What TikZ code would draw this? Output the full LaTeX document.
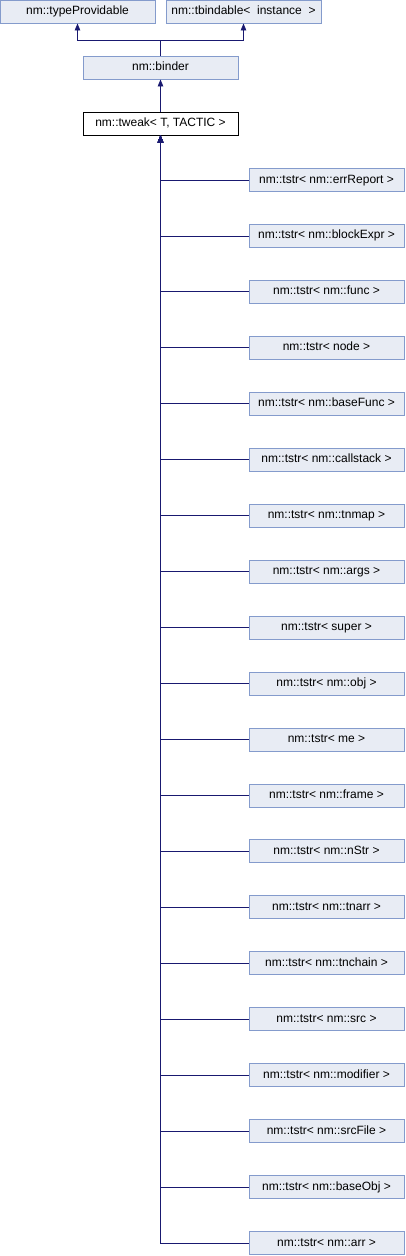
\documentclass[tikz,border=0pt]{standalone}
\usepackage{fontspec}
\setmainfont{Liberation Sans}
\usetikzlibrary{arrows.meta}
\definecolor{nodefill}{RGB}{232,236,244}
\definecolor{nodeborder}{RGB}{132,155,204}
\definecolor{edgecol}{RGB}{25,25,112}
\tikzset{
  cls/.style={draw=nodeborder, fill=nodefill, line width=0.9pt, minimum width=155pt, minimum height=23pt, inner sep=0pt, text height=8.5pt, text depth=2.5pt, font=\fontsize{12}{14}\selectfont},
  cur/.style={cls, draw=black, fill=white},
  inh/.style={draw=edgecol, line width=0.9pt, -{Triangle[length=7pt,width=5.5pt]}},
}
\begin{document}
\begin{tikzpicture}[x=1pt,y=-1pt]
\useasboundingbox (0,0) rectangle (405,1256);
\node[cls] (tp) at (77.5,11.5) {nm::typeProvidable};
\node[cls] (tb) at (243.5,11.5) {nm::tbindable<\ \ instance\ \ >};
\node[cls] (binder) at (160.5,67.5) {nm::binder};
\node[cur] (tweak) at (160.5,123.5) {nm::tweak<\ T, TACTIC\ >};
\coordinate (j) at (160.5,40);
\draw[inh] (binder.north) -- (j) -| (tp.south);
\draw[inh] (binder.north) -- (j) -| (tb.south);
\draw[inh] (tweak.north) -- (binder.south);
\foreach \t [count=\i from 0] in {
  nm::tstr<\ nm::errReport\ >,
  nm::tstr<\ nm::blockExpr\ >,
  nm::tstr<\ nm::func\ >,
  nm::tstr<\ node\ >,
  nm::tstr<\ nm::baseFunc\ >,
  nm::tstr<\ nm::callstack\ >,
  nm::tstr<\ nm::tnmap\ >,
  nm::tstr<\ nm::args\ >,
  nm::tstr<\ super\ >,
  nm::tstr<\ nm::obj\ >,
  nm::tstr<\ me\ >,
  nm::tstr<\ nm::frame\ >,
  nm::tstr<\ nm::nStr\ >,
  nm::tstr<\ nm::tnarr\ >,
  nm::tstr<\ nm::tnchain\ >,
  nm::tstr<\ nm::src\ >,
  nm::tstr<\ nm::modifier\ >,
  nm::tstr<\ nm::srcFile\ >,
  nm::tstr<\ nm::baseObj\ >,
  nm::tstr<\ nm::arr\ >} {
  \node[cls] (c\i) at (326.5,{180+55.95*\i}) {\t};
  \draw[inh] (c\i.west) -| (tweak.south);
}
\end{tikzpicture}
\end{document}
